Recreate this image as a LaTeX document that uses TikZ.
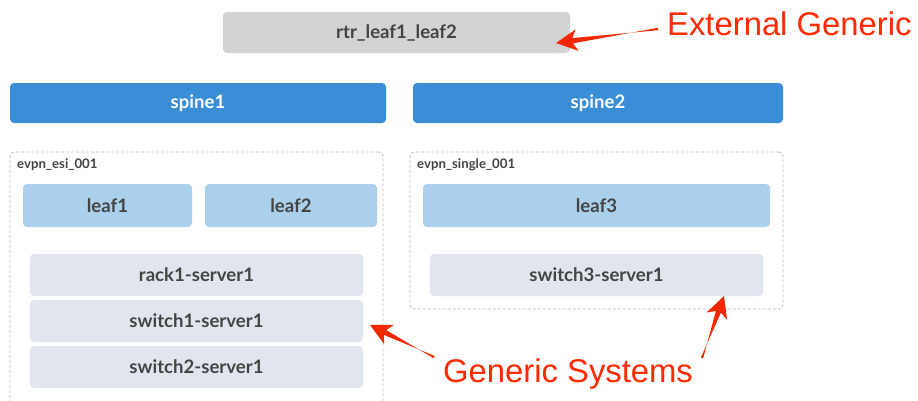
\documentclass[tikz,border=0pt]{standalone}
\usepackage{fontspec}
\usetikzlibrary{calc}
\newfontfamily\lato{Lato}
\newfontfamily\annotfont{Liberation Sans}

\definecolor{labelgray}{HTML}{444444}
\definecolor{rtrfill}{HTML}{D3D3D3}
\definecolor{spinefill}{HTML}{3A8ED8}
\definecolor{leaffill}{HTML}{ABD0EC}
\definecolor{serverfill}{HTML}{E1E6EE}
\definecolor{groupline}{HTML}{BBBBBB}
\definecolor{annotred}{HTML}{FF2A00}

\tikzset{
  box/.style={rounded corners=4pt, inner sep=0pt, outer sep=0pt,
    font=\lato\bfseries\fontsize{18.6}{20}\selectfont, text=labelgray},
  rtrbox/.style={box, fill=rtrfill},
  spinebox/.style={box, fill=spinefill, text=white},
  leafbox/.style={box, fill=leaffill},
  serverbox/.style={box, fill=serverfill},
  groupbox/.style={draw=groupline, dashed, dash pattern=on 3pt off 2pt,
    line width=0.8pt, rounded corners=4pt, inner sep=0pt, outer sep=0pt},
  grouplabel/.style={anchor=west, inner sep=0pt,
    font=\lato\bfseries\fontsize{13.2}{14}\selectfont, text=labelgray},
  annot/.style={anchor=base west, inner sep=0pt, text=annotred,
    font=\annotfont\fontsize{32.8}{36}\selectfont},
}

% tapered callout arrow: #1 = tip, #2 = tail
\newcommand\taparrow[2]{%
  \fill[annotred!95!black!100] (#1)
    -- ($(#1)!24pt!27:(#2)$)
    -- ($(#1)!17pt!9:(#2)$)
    -- ($(#2)!1.2pt!90:(#1)$)
    -- ($(#2)!1.2pt!-90:(#1)$)
    -- ($(#1)!17pt!-9:(#2)$)
    -- ($(#1)!24pt!-27:(#2)$)
    -- cycle;}

\begin{document}
\begin{tikzpicture}[x=1pt, y=-1pt]
  \path[use as bounding box] (0,0) rectangle (918,400);
  \clip (0,0) rectangle (918,400);
  \fill[white] (0,0) rectangle (918,400);

  % external router
  \node[rtrbox, minimum width=347pt, minimum height=41pt] (rtr) at (396.5,32.5) {rtr\_leaf1\_leaf2};

  % spines
  \node[spinebox, minimum width=376pt, minimum height=40pt] (spine1) at (198,103) {spine1};
  \node[spinebox, minimum width=370pt, minimum height=40pt] (spine2) at (598,103) {spine2};

  % ESI group
  \node[groupbox, minimum width=373pt, minimum height=254pt] (esi) at (196.5,279) {};
  \node[grouplabel] (esilabel) at (17,165) {evpn\_esi\_001};
  \node[leafbox, minimum width=169pt, minimum height=43pt] (leaf1) at (107.5,205.5) {leaf1};
  \node[leafbox, minimum width=172pt, minimum height=43pt] (leaf2) at (291,205.5) {leaf2};
  \node[serverbox, minimum width=333pt, minimum height=42pt] (rack1) at (196.5,275) {rack1-server1};
  \node[serverbox, minimum width=333pt, minimum height=42pt] (sw1) at (196.5,321) {switch1-server1};
  \node[serverbox, minimum width=333pt, minimum height=42pt] (sw2) at (196.5,367) {switch2-server1};

  % single-homed group
  \node[groupbox, minimum width=373pt, minimum height=157pt] (single) at (596.5,230.5) {};
  \node[grouplabel] (singlelabel) at (417,165) {evpn\_single\_001};
  \node[leafbox, minimum width=347pt, minimum height=43pt] (leaf3) at (596.5,205.5) {leaf3};
  \node[serverbox, minimum width=333pt, minimum height=42pt] (sw3) at (596.5,275) {switch3-server1};

  % annotations
  \node[annot] (extlabel) at (667,35) {External Generic};
  \node[annot] (genlabel) at (443,382) {Generic Systems};

  \coordinate (exttip) at (556,43);
  \coordinate (exttail) at (658,29);
  \coordinate (gentipL) at (370,325);
  \coordinate (gentailL) at (434,357);
  \coordinate (gentipR) at (724,296);
  \coordinate (gentailR) at (702,358);
  \taparrow{exttip}{exttail}
  \taparrow{gentipL}{gentailL}
  \taparrow{gentipR}{gentailR}
\end{tikzpicture}
\end{document}
